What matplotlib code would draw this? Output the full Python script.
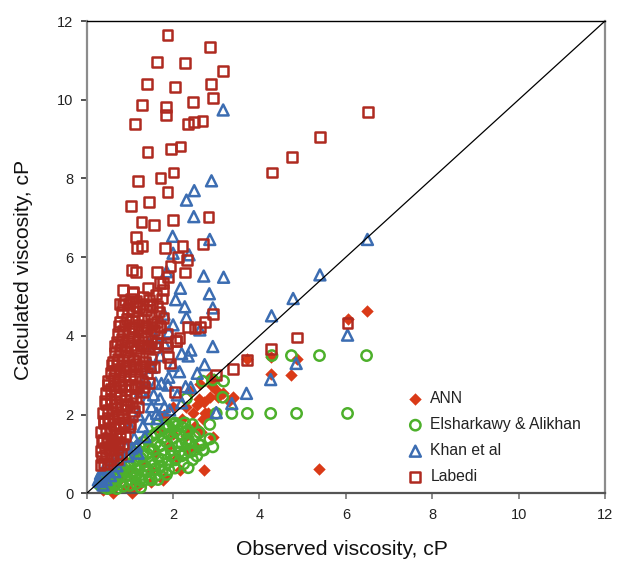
import matplotlib
matplotlib.use("Agg")
import matplotlib.pyplot as plt

# ---------------- data ----------------
ann_x = [6.48, 6.04, 4.26, 4.87, 3.72, 4.27, 4.74, 3.38, 5.39, 2.72, 2.72, 2.92, 3.00, 3.15, 2.90,
         2.85, 3.30, 2.46, 3.39, 2.62, 2.40, 2.30, 2.20, 2.50, 2.65, 2.00, 1.90, 2.35, 2.10, 1.77,
         1.50, 2.80, 2.95, 2.30, 2.70, 1.60, 1.30, 1.00, 0.80, 1.20, 0.90, 0.50, 0.70, 1.40, 1.70,
         2.00, 1.80, 1.50, 1.10, 0.55, 0.40, 0.61, 1.04, 2.15, 1.81, 2.39, 2.54, 0.38, 2.60, 3.05,
         2.75, 2.55, 1.46, 2.85]
ann_y = [4.62, 4.43, 3.46, 3.41, 3.41, 3.03, 3.00, 2.43, 0.61, 0.59, 2.33, 1.44, 2.62, 2.55, 2.72,
         2.45, 2.35, 2.03, 2.46, 2.78, 2.60, 2.20, 1.90, 1.70, 1.55, 1.50, 1.20, 1.10, 0.90, 0.34,
         0.30, 2.05, 2.90, 1.45, 1.90, 1.00, 0.80, 0.60, 0.40, 0.20, 0.15, 0.20, 0.30, 1.30, 1.60,
         2.20, 2.00, 0.60, 0.35, 0.45, 0.35, 0.00, 0.02, 0.59, 0.42, 1.61, 1.18, 0.08, 2.40, 2.45,
         2.05, 2.25, 4.15, 2.95]

els_x = [6.48, 5.39, 4.74, 4.29, 6.04, 4.86, 4.26, 3.72, 3.36, 3.00, 3.15, 3.17, 2.92, 2.68, 2.85,
         2.85, 2.92, 2.71, 2.64, 2.31, 2.27, 2.04, 1.83, 1.62, 2.04, 1.50, 1.23, 2.69, 2.39, 2.27,
         0.30, 0.38, 0.45, 0.52, 0.60, 0.68, 0.75, 0.82, 0.90, 0.98, 1.05, 1.12, 1.20, 1.28, 1.35,
         1.42, 1.50, 1.58, 1.65, 1.72, 1.80, 1.88, 1.95, 2.05, 2.12, 2.20, 2.30, 2.40, 2.50, 2.60,
         0.35, 0.42, 0.50, 0.58, 0.66, 0.74, 0.82, 0.90, 0.98, 1.06, 1.14, 1.22, 1.30, 1.40, 1.50,
         1.60, 1.70, 1.80, 1.90, 2.00, 2.10, 2.20, 2.35, 2.45,
         0.55, 0.70, 0.85, 1.00, 1.15, 1.30, 1.45, 1.60, 1.75, 1.90, 2.25, 2.45,
         0.62, 0.78, 0.95, 1.10, 1.25, 1.40, 1.55, 1.70, 1.85, 2.00, 2.15, 2.30,
         0.40, 0.55, 0.70, 0.85, 1.00, 1.15, 1.30, 1.45, 1.60, 1.75, 1.90, 2.05, 2.20, 2.35, 2.50,
         2.60, 1.95, 1.75, 1.55, 1.35, 1.15, 0.95, 2.15, 2.55, 0.48, 0.65, 1.25, 1.85, 2.35, 1.65]
els_y = [3.50, 3.50, 3.50, 3.50, 2.03, 2.03, 2.03, 2.03, 2.03, 2.03, 2.44, 2.85, 2.88, 2.85, 1.75,
         1.38, 1.18, 1.10, 1.22, 2.41, 1.79, 1.79, 1.74, 1.74, 0.64, 0.34, 0.34, 1.10, 1.28, 1.02,
         0.22, 0.18, 0.28, 0.20, 0.32, 0.25, 0.40, 0.30, 0.45, 0.35, 0.55, 0.42, 0.60, 0.48, 0.70,
         0.55, 0.80, 0.62, 0.90, 0.70, 1.00, 0.78, 1.10, 0.85, 1.20, 0.95, 1.30, 1.05, 1.45, 1.25,
         0.40, 0.48, 0.55, 0.62, 0.70, 0.78, 0.85, 0.92, 1.00, 1.08, 1.15, 1.22, 1.30, 1.38, 1.45,
         1.52, 1.58, 1.65, 1.70, 1.75, 1.72, 1.68, 1.60, 1.75,
         0.15, 0.12, 0.18, 0.20, 0.25, 0.30, 0.38, 0.45, 0.55, 0.60, 0.75, 0.85,
         0.48, 0.58, 0.70, 0.80, 0.90, 1.00, 1.10, 1.20, 1.30, 1.40, 1.50, 1.55,
         0.30, 0.35, 0.50, 0.62, 0.75, 0.88, 1.00, 1.15, 1.28, 1.40, 1.50, 1.58, 1.25, 1.38, 1.10,
         1.55, 0.95, 0.85, 0.72, 0.58, 0.48, 0.55, 1.05, 0.95, 0.12, 0.20, 0.15, 0.48, 0.65, 0.35]

khan_x = [3.16, 2.89, 2.49, 2.31, 2.48, 1.99, 2.85, 2.00, 2.37, 1.85, 2.71, 3.17, 2.17, 2.84, 2.06,
          2.27, 2.92, 1.79, 2.31, 2.00, 2.62, 2.92, 2.41, 2.35, 2.73, 2.15, 2.56, 1.46, 1.65, 1.42,
          1.73, 1.88, 2.29, 2.41, 1.92, 1.62, 1.50, 1.35, 1.19, 0.27, 0.38, 6.50, 5.40, 4.78, 4.28,
          6.04, 4.85, 4.26, 3.70, 3.36, 3.00,
          1.20, 1.40, 1.60, 1.30, 1.10, 0.90, 0.80, 0.60, 0.50, 0.40, 0.35, 0.30, 0.45, 1.70, 1.80,
          1.90, 1.60, 1.50, 1.35, 1.25, 1.70, 1.90, 2.10, 2.20, 1.00, 1.15, 0.70, 1.45, 1.55, 2.00,
          2.20, 1.65, 1.80, 0.55, 0.65, 0.75, 0.95, 1.05, 0.32, 0.42]
khan_y = [9.74, 7.94, 7.69, 7.45, 7.03, 6.53, 6.45, 6.10, 6.06, 5.63, 5.52, 5.49, 5.21, 5.07, 4.92,
          4.74, 4.71, 4.55, 4.47, 4.28, 4.15, 3.73, 3.64, 3.49, 3.27, 3.09, 3.05, 3.30, 3.81, 3.81,
          2.79, 2.75, 2.71, 2.69, 2.12, 2.03, 2.20, 1.44, 1.02, 0.34, 0.21, 6.45, 5.55, 4.95, 4.51,
          4.02, 3.30, 2.89, 2.54, 2.28, 2.05,
          2.00, 2.40, 2.80, 1.70, 1.40, 1.20, 1.00, 0.80, 0.60, 0.50, 0.40, 0.30, 0.35, 3.50, 3.80,
          4.10, 3.95, 3.20, 2.90, 2.60, 2.40, 2.95, 2.50, 2.30, 1.70, 1.20, 0.70, 1.90, 2.50, 3.25,
          3.55, 1.90, 2.20, 0.45, 0.55, 0.85, 0.95, 1.15, 0.50, 0.65]

lab_x = [1.87, 2.85, 1.62, 2.27, 3.16, 1.39, 2.04, 2.88, 2.92, 1.29, 1.84, 2.47, 1.84, 1.11, 2.35,
         2.49, 2.68, 1.41, 1.95, 2.17, 4.29, 1.19, 1.71, 2.01, 1.87, 1.03, 1.44, 1.27, 1.56, 1.99,
         2.82, 1.14, 1.17, 1.29, 1.82, 2.22, 2.70, 6.52, 5.41, 4.76,
         1.76, 1.89, 2.27, 1.62, 1.04, 1.15, 1.94, 2.32, 2.12, 0.85, 1.08, 0.77, 1.69, 1.77, 2.73,
         2.92, 2.04, 1.88, 1.86, 2.15, 2.35, 2.50, 2.62, 2.07, 1.62, 1.92, 3.39, 2.99, 6.04, 4.86,
         4.26, 3.72,
         0.32, 0.40, 0.48, 0.55, 0.35, 0.45, 0.62, 0.70, 0.80,
         0.33, 0.42, 0.52, 0.60, 0.72, 0.85, 0.38, 0.48, 0.58, 0.68, 0.78, 0.90,
         0.34, 0.44, 0.54, 0.64, 0.75, 0.86, 0.98, 0.40, 0.50, 0.60, 0.72, 0.84, 1.05,
         0.38, 0.48, 0.58, 0.68, 0.80, 0.92, 1.10, 1.20, 0.42, 0.55, 0.65, 0.78, 0.90, 1.02, 1.15,
         0.45, 0.55, 0.66, 0.78, 0.90, 1.02, 1.15, 1.30, 0.50, 0.62, 0.74, 0.86, 1.00, 1.12, 1.28, 1.45,
         0.55, 0.65, 0.76, 0.88, 1.00, 1.12, 1.25, 1.40, 1.55, 0.60, 0.72, 0.84, 0.96, 1.08, 1.22, 1.35, 1.50,
         0.65, 0.78, 0.90, 1.02, 1.15, 1.30, 1.45, 1.62, 0.70, 0.82, 0.95, 1.08, 1.20, 1.35, 1.50, 1.86,
         0.72, 0.85, 0.98, 1.10, 1.25, 1.40, 1.55, 1.70, 1.85, 2.07, 0.78, 0.92, 1.05, 1.18, 1.32, 1.48, 1.62, 1.78,
         0.82, 0.95, 1.08, 1.22, 1.38, 1.52, 1.68, 0.88, 1.02, 1.15, 1.30, 1.45, 1.60, 1.75, 1.08, 1.42,
         0.36, 0.46, 0.56, 0.66, 0.76, 0.40, 0.52, 0.64, 0.76, 0.88, 1.00,
         0.44, 0.56, 0.68, 0.80, 0.94, 1.06, 0.50, 0.62, 0.74, 0.88, 1.02, 1.18, 1.34,
         0.58, 0.70, 0.84, 0.98, 1.14, 1.30, 1.46, 0.66, 0.80, 0.94, 1.10, 1.26, 1.42, 1.58,
         0.74, 0.88, 1.04, 1.20, 1.36, 1.52, 1.70, 0.84, 0.98, 1.14, 1.30, 1.46, 1.62]
lab_y = [11.65, 11.34, 10.96, 10.93, 10.72, 10.39, 10.33, 10.39, 10.05, 9.86, 9.82, 9.95, 9.61, 9.38, 9.38,
         9.43, 9.45, 8.68, 8.74, 8.81, 8.15, 7.94, 8.02, 8.15, 7.66, 7.31, 7.40, 6.89, 6.81, 6.95,
         7.02, 6.51, 6.23, 6.28, 6.23, 6.28, 6.34, 9.69, 9.06, 8.55,
         5.34, 5.49, 5.61, 5.63, 5.67, 5.63, 5.78, 5.93, 6.01, 5.17, 5.12, 4.81, 5.34, 5.17, 4.36,
         4.55, 2.58, 3.47, 3.73, 3.94, 4.22, 4.19, 4.23, 3.88, 3.81, 3.30, 3.15, 3.00, 4.32, 3.96,
         3.67, 3.39,
         0.72, 0.78, 0.75, 0.85, 0.92, 0.98, 0.95, 0.88, 1.00,
         1.08, 1.15, 1.12, 1.22, 1.18, 1.25, 1.35, 1.42, 1.38, 1.48, 1.40, 1.45,
         1.55, 1.62, 1.58, 1.70, 1.65, 1.75, 1.68, 1.85, 1.92, 1.88, 1.96, 1.90, 1.95,
         2.05, 2.12, 2.08, 2.18, 2.15, 2.22, 2.10, 2.20, 2.35, 2.40, 2.32, 2.45, 2.38, 2.48, 2.42,
         2.55, 2.65, 2.60, 2.70, 2.62, 2.75, 2.68, 2.58, 2.85, 2.92, 2.88, 2.98, 2.90, 2.95, 2.85, 2.80,
         3.05, 3.12, 3.08, 3.18, 3.10, 3.22, 3.15, 3.05, 3.20, 3.35, 3.42, 3.38, 3.48, 3.40, 3.45, 3.35, 3.42,
         3.58, 3.65, 3.60, 3.70, 3.62, 3.75, 3.68, 3.81, 3.85, 3.92, 3.88, 3.98, 3.90, 3.95, 3.88, 3.81,
         4.05, 4.12, 4.08, 4.18, 4.10, 4.20, 4.15, 4.25, 4.05, 3.88, 4.35, 4.42, 4.38, 4.45, 4.40, 4.48, 4.35, 4.45,
         4.60, 4.68, 4.62, 4.72, 4.65, 4.75, 4.62, 4.90, 4.95, 4.88, 5.00, 4.92, 5.05, 4.95, 5.10, 5.21,
         1.30, 1.28, 1.32, 1.27, 1.31, 1.78, 1.80, 1.76, 1.79, 1.81, 1.77,
         2.26, 2.28, 2.25, 2.27, 2.24, 2.29, 2.75, 2.73, 2.77, 2.74, 2.76, 2.72, 2.70,
         3.25, 3.27, 3.23, 3.26, 3.28, 3.24, 3.22, 3.75, 3.77, 3.73, 3.76, 3.78, 3.74, 3.72,
         4.25, 4.27, 4.23, 4.28, 4.26, 4.30, 4.22, 4.78, 4.80, 4.76, 4.82, 4.79, 4.75]

series_labels = ["ANN", "Elsharkawy & Alikhan", "Khan et al", "Labedi"]
ticks = [0, 2, 4, 6, 8, 10, 12]

# ---------------- figure ----------------
plt.rcParams['font.family'] = ['Liberation Sans', 'DejaVu Sans']

fig = plt.figure(figsize=(6.17, 5.62), dpi=100)
ax = fig.add_axes([0.1405, 0.1222, 0.8400, 0.8404])

c_ann = '#DA3A17'
c_els = '#4DB02B'
c_khan = '#3C6DB2'
c_lab = '#AF2A20'

ax.scatter(ann_x, ann_y, marker='D', s=40, color=c_ann, linewidths=0,
           label=series_labels[0], clip_on=False, zorder=2)
ax.scatter(els_x, els_y, marker='o', s=55, facecolors='none', edgecolors=c_els,
           linewidths=1.8, label=series_labels[1], clip_on=False, zorder=3)
ax.scatter(khan_x, khan_y, marker='^', s=62, facecolors='none', edgecolors=c_khan,
           linewidths=1.8, label=series_labels[2], clip_on=False, zorder=4)
ax.scatter(lab_x, lab_y, marker='s', s=50, facecolors='none', edgecolors=c_lab,
           linewidths=1.8, label=series_labels[3], clip_on=False, zorder=5)

ax.plot([0, 12], [0, 12], color='black', lw=0.9, zorder=6)

ax.set_xlim(0, 12)
ax.set_ylim(0, 12)
ax.set_xticks(ticks)
ax.set_yticks(ticks)
ax.set_xticklabels([str(t) for t in ticks])
ax.set_yticklabels([str(t) for t in ticks])

ax.spines['top'].set_color('black')
ax.spines['top'].set_linewidth(1.0)
ax.spines['right'].set_color('#8c8c8c')
ax.spines['right'].set_linewidth(1.6)
ax.spines['left'].set_color('#8c8c8c')
ax.spines['left'].set_linewidth(1.6)
ax.spines['bottom'].set_color('#555555')
ax.spines['bottom'].set_linewidth(1.6)

ax.tick_params(axis='x', direction='out', length=4.5, width=1.2, color='#777777',
               labelsize=10.5, labelcolor='#222222', pad=6)
ax.tick_params(axis='y', direction='out', length=4.5, width=1.2, color='#333333',
               labelsize=10.5, labelcolor='#222222', pad=5)

ax.set_xlabel("Observed viscosity, cP", fontsize=15.2, color='#111111')
ax.set_ylabel("Calculated viscosity, cP", fontsize=15.2, color='#111111')
ax.xaxis.set_label_coords(0.493, -0.099)
ax.yaxis.set_label_coords(-0.103, 0.473)

leg = ax.legend(loc='upper left', bbox_to_anchor=(0.619, 0.216), frameon=False,
                fontsize=11.3, handlelength=1.0, handletextpad=0.45, labelspacing=0.70,
                borderpad=0, borderaxespad=0, scatterpoints=1)
for t in leg.get_texts():
    t.set_color('#222222')

fig.savefig("out.png", dpi=100)
